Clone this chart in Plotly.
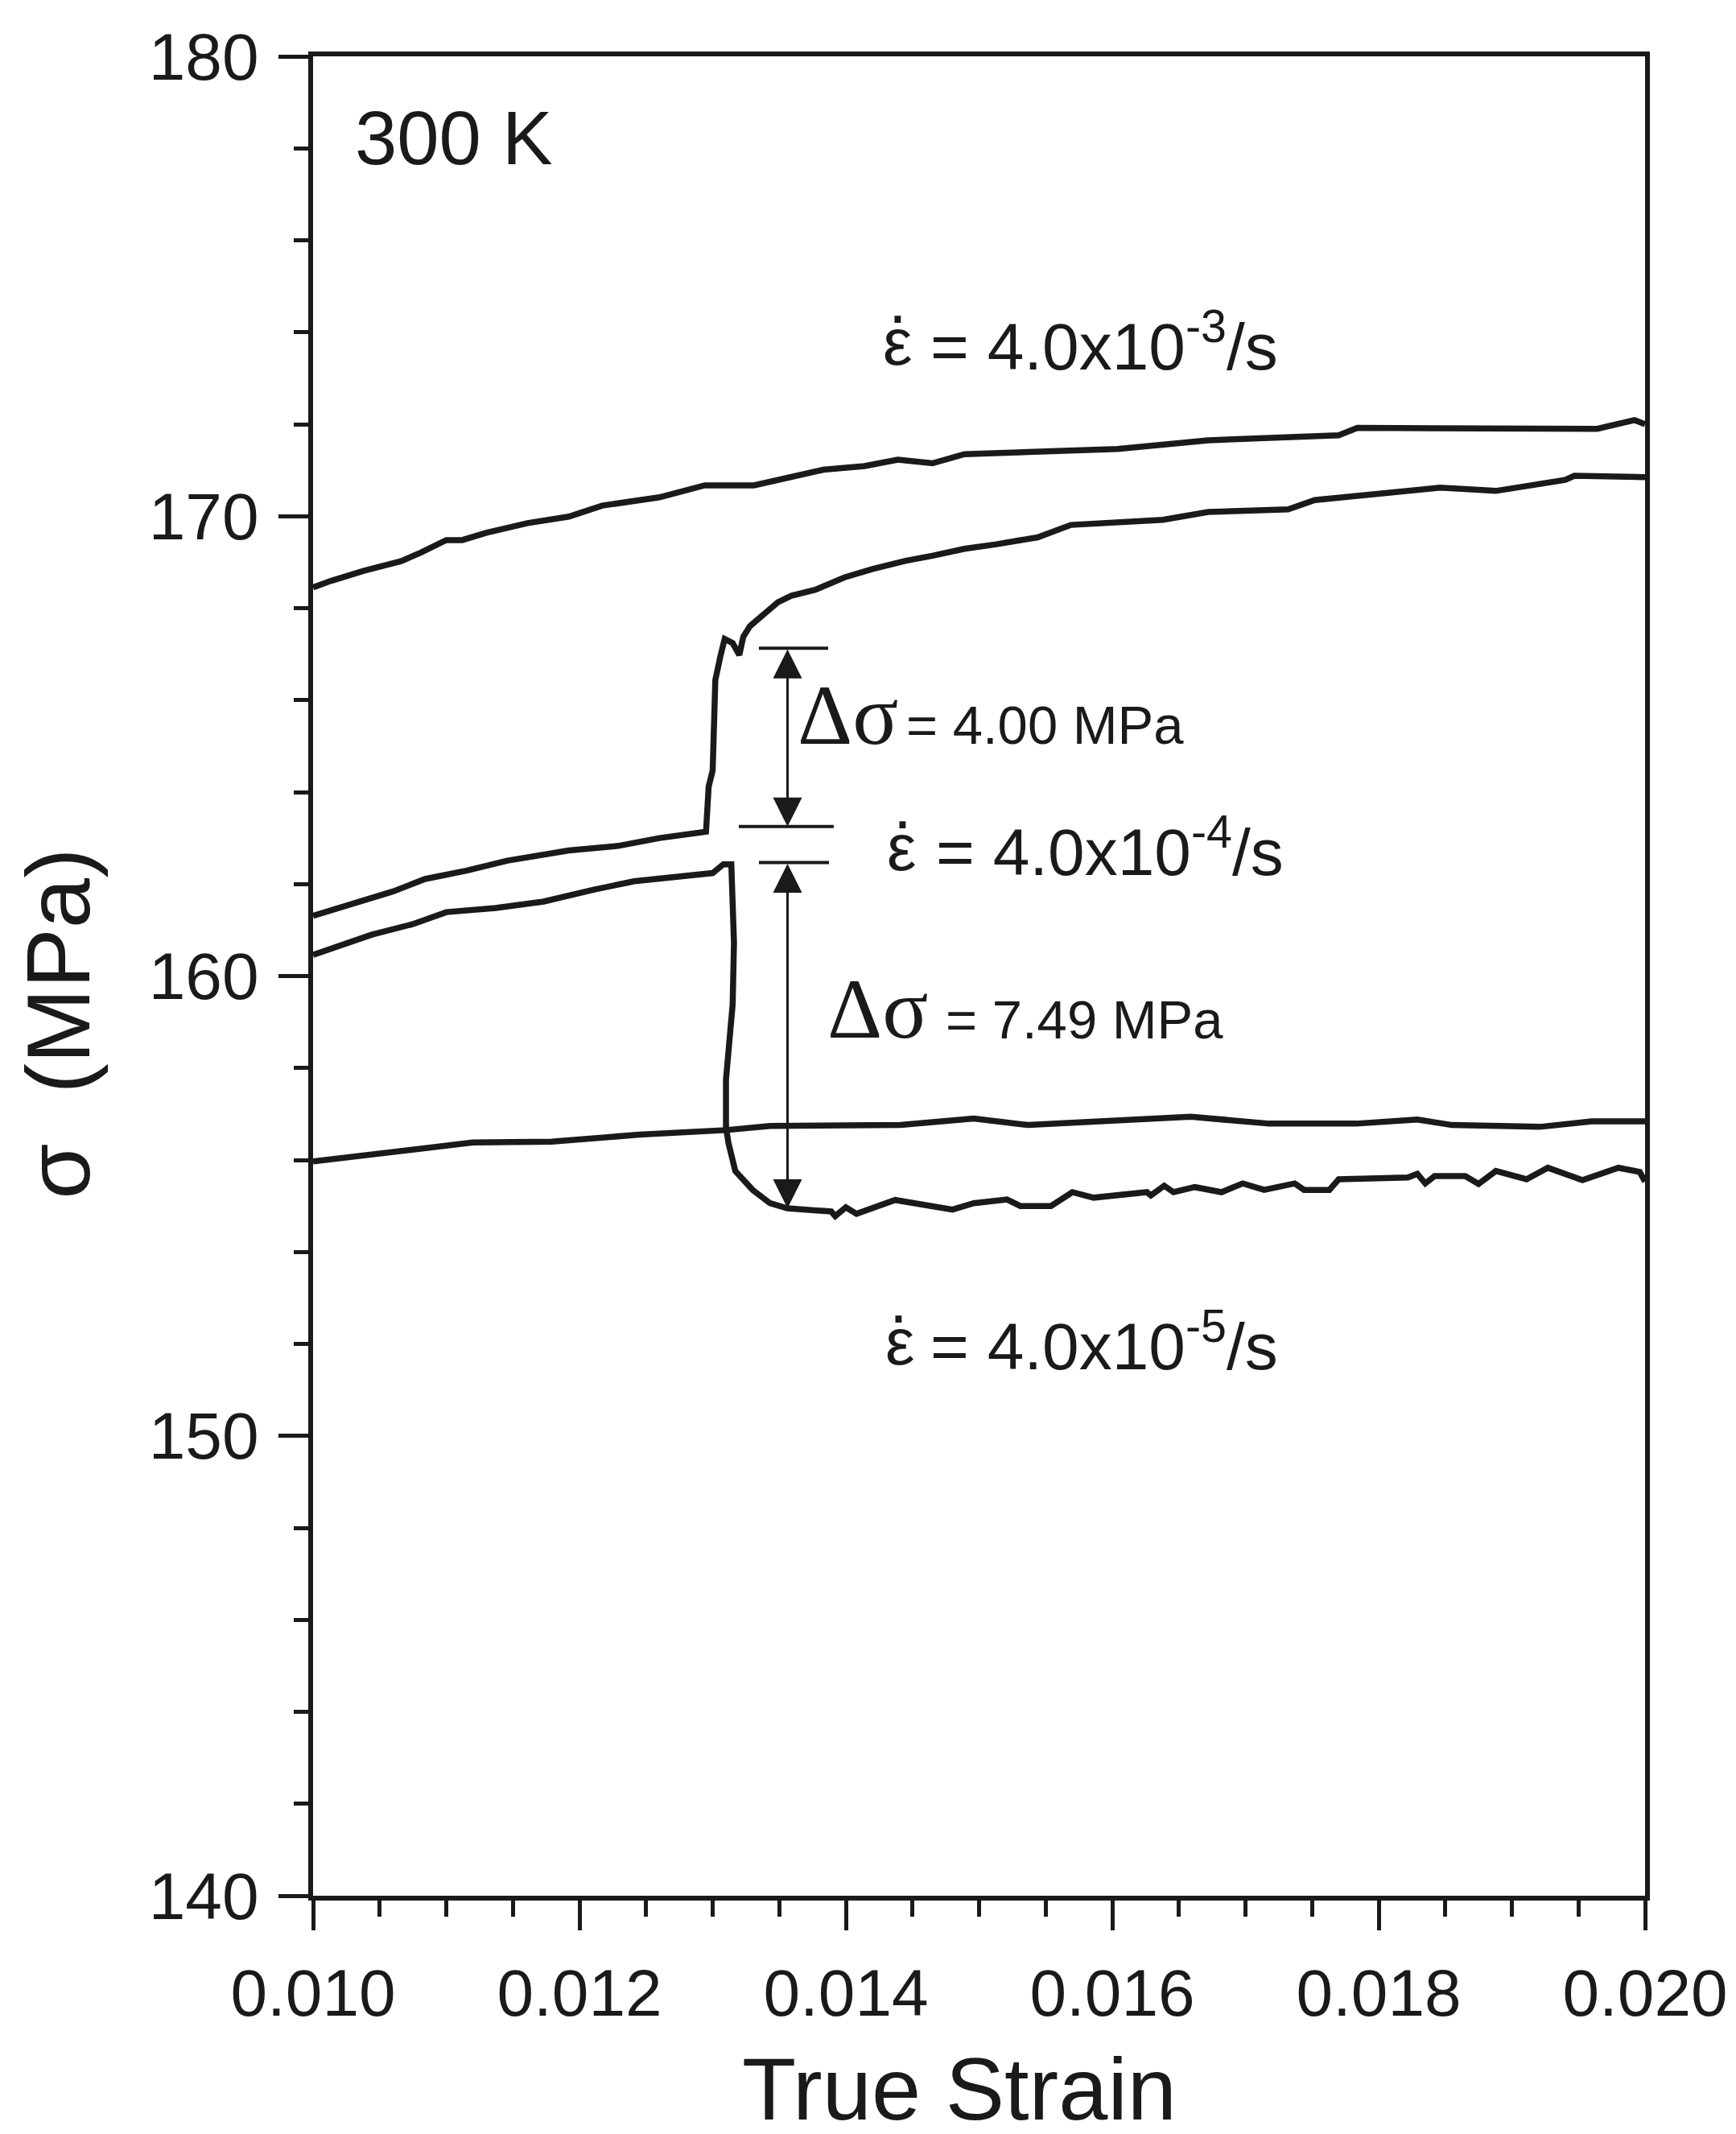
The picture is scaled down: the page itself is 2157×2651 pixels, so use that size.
import plotly.graph_objects as go

# strain-rate jump test at 300 K, stress vs true strain
rate_3_x = [0.01000, 0.01013, 0.01038, 0.01066, 0.01081, 0.01100, 0.01112, 0.01130, 0.01161,
            0.01192, 0.01217, 0.01260, 0.01294, 0.01331, 0.01383, 0.01414, 0.01439, 0.01465,
            0.01489, 0.01604, 0.01672, 0.01770, 0.01784, 0.01926, 0.01964, 0.01992, 0.02000]
rate_3_y = [168.45, 168.59, 168.81, 169.02, 169.21, 169.48, 169.48, 169.64, 169.85,
            169.99, 170.23, 170.41, 170.67, 170.67, 171.01, 171.09, 171.23, 171.15,
            171.35, 171.46, 171.65, 171.76, 171.92, 171.92, 171.90, 172.09, 172.00]

jump_up_x = [0.01000, 0.01029, 0.01060, 0.01084, 0.01115, 0.01146, 0.01192, 0.01229, 0.01260,
             0.01295, 0.01297, 0.01300, 0.01302, 0.01306, 0.01309, 0.01315, 0.01320, 0.01323,
             0.01328, 0.01349, 0.01359, 0.01377, 0.01399, 0.01420, 0.01445, 0.01465, 0.01489,
             0.01513, 0.01544, 0.01569, 0.01638, 0.01672, 0.01732, 0.01752, 0.01846, 0.01888,
             0.01940, 0.01947, 0.02000]
jump_up_y = [161.31, 161.57, 161.84, 162.11, 162.29, 162.51, 162.73, 162.83, 163.00,
             163.14, 164.12, 164.47, 166.44, 166.98, 167.33, 167.24, 166.98, 167.38,
             167.61, 168.13, 168.27, 168.40, 168.67, 168.85, 169.03, 169.14, 169.29,
             169.39, 169.54, 169.81, 169.92, 170.09, 170.15, 170.35, 170.62, 170.55,
             170.79, 170.88, 170.85]

jump_down_x = [0.01000, 0.01019, 0.01044, 0.01075, 0.01100, 0.01137, 0.01173, 0.01211, 0.01241,
               0.01300, 0.01308, 0.01314, 0.01316, 0.01315, 0.01312, 0.01310, 0.01310, 0.01312,
               0.01317, 0.01330, 0.01343, 0.01356, 0.01389, 0.01392, 0.01400, 0.01408, 0.01437,
               0.01480, 0.01496, 0.01521, 0.01531, 0.01554, 0.01570, 0.01586, 0.01626, 0.01629,
               0.01639, 0.01646, 0.01662, 0.01682, 0.01698, 0.01714, 0.01737, 0.01744, 0.01763,
               0.01770, 0.01822, 0.01829, 0.01835, 0.01842, 0.01865, 0.01875, 0.01888, 0.01911,
               0.01927, 0.01953, 0.01980, 0.01996, 0.02000]
jump_down_y = [160.46, 160.64, 160.90, 161.13, 161.39, 161.48, 161.62, 161.88, 162.06,
               162.24, 162.43, 162.43, 160.73, 159.38, 158.33, 157.75, 156.70, 156.35,
               155.76, 155.35, 155.06, 154.95, 154.88, 154.78, 154.97, 154.83, 155.13,
               154.92, 155.06, 155.14, 155.00, 155.00, 155.30, 155.18, 155.30, 155.23,
               155.44, 155.30, 155.41, 155.30, 155.49, 155.35, 155.49, 155.35, 155.35,
               155.58, 155.62, 155.70, 155.49, 155.65, 155.65, 155.48, 155.76, 155.58,
               155.83, 155.56, 155.83, 155.74, 155.53]

rate_5_x = [0.01000, 0.01048, 0.01120, 0.01179, 0.01245, 0.01310, 0.01343, 0.01441, 0.01496,
            0.01537, 0.01619, 0.01659, 0.01718, 0.01783, 0.01829, 0.01855, 0.01921, 0.01960,
            0.02000]
rate_5_y = [155.97, 156.14, 156.38, 156.40, 156.55, 156.65, 156.74, 156.76, 156.90,
            156.76, 156.88, 156.94, 156.79, 156.79, 156.88, 156.76, 156.72, 156.84,
            156.84]

# delta-sigma markers
arrow_x = 0.013562
bar_y = [167.13, 163.25, 162.47]
bar_x0 = [0.013347, 0.013196, 0.013347]
bar_x1 = [0.013867, 0.013909, 0.013873]
arrow_ends = [(167.13, 163.25), (162.47, 154.95)]

# strain-rate labels: exponent, y, x of epsilon, x of dot, x of "="
rate_exps = ["-3", "-4", "-5"]
rate_label_y = [173.80, 162.80, 152.05]
rate_eps_x = [0.014266, 0.014296, 0.014284]
rate_dot_x = [0.014392, 0.014428, 0.014398]
rate_eq_x = [0.014620, 0.014663, 0.014620]

# delta-sigma labels
dsig_values = ["4.00", "7.49"]
dsig_sym_x = [0.013625, 0.013849]
dsig_sym_y = [165.68, 159.28]
dsig_val_x = [0.014441, 0.014737]
dsig_val_y = [165.46, 159.05]

x_ticks = [0.010, 0.012, 0.014, 0.016, 0.018, 0.020]
x_ticktext = ["0.010", "0.012", "0.014", "0.016", "0.018", "0.020"]
y_ticks = [140, 150, 160, 170, 180]

INK = "#1a1a1a"
SANS = "Liberation Sans, Arial, sans-serif"
SERIF = "Liberation Serif, Times New Roman, serif"

fig = go.Figure()

for xs, ys in [(rate_3_x, rate_3_y), (jump_up_x, jump_up_y),
               (jump_down_x, jump_down_y), (rate_5_x, rate_5_y)]:
    fig.add_trace(go.Scatter(x=xs, y=ys, mode="lines",
                             line=dict(color=INK, width=7.5), hoverinfo="skip"))

# short horizontal bars at the arrow ends
bx, by = [], []
for x0, x1, yv in zip(bar_x0, bar_x1, bar_y):
    bx += [x0, x1, None]
    by += [yv, yv, None]
fig.add_trace(go.Scatter(x=bx, y=by, mode="lines",
                         line=dict(color=INK, width=4), hoverinfo="skip"))

annotations = []
for top, bottom in arrow_ends:
    annotations.append(dict(
        x=arrow_x, y=bottom, ax=arrow_x, ay=top, xref="x", yref="y",
        axref="x", ayref="y", text="", showarrow=True,
        arrowhead=2, startarrowhead=2, arrowside="end+start",
        arrowwidth=3, arrowsize=2.4, startarrowsize=2.4, arrowcolor=INK,
        standoff=0, startstandoff=0))


def label(x, y, text, size, family=SANS, anchor="left", yshift=0):
    return dict(x=x, y=y, xref="x", yref="y", text=text, showarrow=False,
                xanchor=anchor, yanchor="middle", yshift=yshift,
                font=dict(family=family, size=size, color=INK))


annotations.append(label(0.010302, 178.22, "300 K", 94))

for exp, yv, ex, dx, qx in zip(rate_exps, rate_label_y, rate_eps_x, rate_dot_x, rate_eq_x):
    annotations.append(label(ex, yv, "ε", 82))
    annotations.append(label(dx, yv, ".", 82, anchor="center", yshift=52))
    annotations.append(label(qx, yv, "= 4.0x10<sup>" + exp + "</sup>/s", 82))

for val, sx, sy, vx, vy in zip(dsig_values, dsig_sym_x, dsig_sym_y, dsig_val_x, dsig_val_y):
    annotations.append(label(sx, sy, "Δσ", 106, SERIF))
    annotations.append(label(vx, vy, "= " + val + " MPa", 67))

annotations += [
    dict(x=0.485, y=-0.105, xref="paper", yref="paper", text="True Strain",
         showarrow=False, xanchor="center", yanchor="middle",
         font=dict(family=SANS, size=110, color=INK)),
    dict(x=-0.191, y=0.474, xref="paper", yref="paper",
         text="σ\u00a0\u00a0(MPa)", textangle=-90,
         showarrow=False, xanchor="center", yanchor="middle",
         font=dict(family=SANS, size=112, color=INK)),
]

fig.update_layout(
    width=2157, height=2651,
    margin=dict(l=381, r=121, t=62, b=304),
    paper_bgcolor="white", plot_bgcolor="white",
    showlegend=False,
    annotations=annotations,
    xaxis=dict(
        range=[0.010, 0.020], tickvals=x_ticks, ticktext=x_ticktext,
        ticks="outside", ticklen=37, tickwidth=5, tickcolor=INK,
        minor=dict(dtick=0.0005, ticks="outside", ticklen=20, tickwidth=5, tickcolor=INK),
        showline=True, linewidth=6, linecolor=INK, mirror=True,
        showgrid=False, zeroline=False, ticklabelstandoff=8,
        tickfont=dict(family=SANS, size=82, color=INK),
    ),
    yaxis=dict(
        range=[140, 180], tickvals=y_ticks,
        ticks="outside", ticklen=37, tickwidth=5, tickcolor=INK,
        minor=dict(dtick=2, ticks="outside", ticklen=18, tickwidth=5, tickcolor=INK),
        showline=True, linewidth=6, linecolor=INK, mirror=True,
        showgrid=False, zeroline=False, ticklabelstandoff=8,
        tickfont=dict(family=SANS, size=82, color=INK),
    ),
)

fig.write_html("out.html")
